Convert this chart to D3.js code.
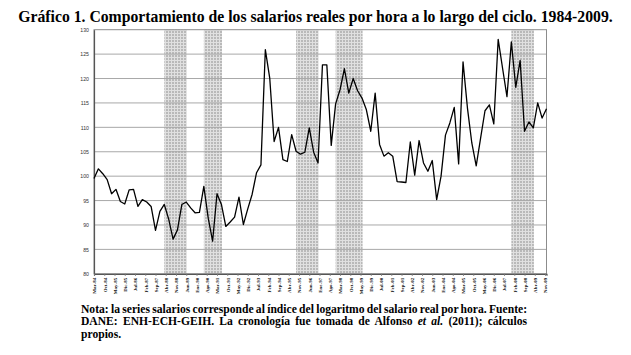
<!DOCTYPE html>
<html><head><meta charset="utf-8">
<script src="https://cdn.jsdelivr.net/npm/d3@7"></script>
<style>html,body{margin:0;padding:0;background:#fff;}svg{display:block;}</style>
</head><body>
<svg id="c" width="631" height="355"></svg>
<script>
// ---- data ----
const startLabel = "Mar-84"; // first quarter (1984-Q1), quarterly data
const salarios = [
 99.5,101.5,100.5,99.3,96.4,97.3,94.8,94.3,97.2,97.3,93.8,95.2,94.7,93.8,88.9,92.8,
 94.2,91.2,87.1,89.0,94.2,94.7,93.5,92.5,92.6,97.9,91.4,86.7,96.4,94.2,89.7,90.6,
 91.6,95.7,90.1,93.3,96.3,100.7,102.3,125.9,120.1,107.1,110.0,103.4,103.0,108.5,105.1,104.5,
 104.9,109.9,104.9,102.7,122.8,122.8,106.3,114.8,117.7,122.0,117.0,120.0,117.5,116.0,113.6,109.2,
 117.0,106.5,104.1,104.8,104.1,98.9,98.8,98.7,107.0,100.2,107.3,102.7,101.0,103.2,95.2,100.0,
 108.4,110.9,114.1,102.5,123.4,114.0,106.8,102.1,107.8,113.4,114.6,110.7,128.0,122.1,116.3,127.5,
 118.2,123.7,109.2,111.1,109.9,115.0,111.9,113.8
];
const recesionInicio = ["1988-03","1990-06","1995-09","1997-12","2007-12"];
const recesionFin    = ["1989-06","1991-06","1996-12","1999-06","2009-03"];
const xTickLabels = ["Mar-84","Oct-84","May-85","Dic-85","Jul-86","Feb-87","Sep-87","Abr-88","Nov-88","Jun-89",
 "Ene-90","Ago-90","Mar-91","Oct-91","May-92","Dic-92","Jul-93","Feb-94","Sep-94","Abr-95","Nov-95","Jun-96",
 "Ene-97","Ago-97","Mar-98","Oct-98","May-99","Dic-99","Jul-00","Feb-01","Sep-01","Abr-02","Nov-02","Jun-03",
 "Ene-04","Ago-04","Mar-05","Oct-05","May-06","Dic-06","Jul-07","Feb-08","Sep-08","Abr-09","Nov-09"];
const yTicks = [80,85,90,95,100,105,110,115,120,125,130];
const titulo = "Gráfico 1. Comportamiento de los salarios reales por hora a lo largo del ciclo. 1984-2009.";

// ---- layout ----
const SERIF = "'Liberation Serif','Times New Roman','DejaVu Serif',serif";
const svg = d3.select("#c");
const L=94, R=546.5, T=29.7, B=273.8;
const monthOf = s => { const [yy,m]=s.split("-").map(Number); return (yy-1984)*12 + (m-3); };
const x = d3.scaleLinear().domain([0, (salarios.length-1)*3]).range([L,R]);
const y = d3.scaleLinear().domain([80,130]).range([B,T]);

// pattern for recession shading (grey cells with white grid)
const defs = svg.append("defs");
const pat = defs.append("pattern").attr("id","hatch").attr("patternUnits","userSpaceOnUse")
  .attr("width",3).attr("height",3);
pat.append("rect").attr("width",3).attr("height",3).attr("fill","#e0e0e0");
pat.append("rect").attr("x",1).attr("y",1).attr("width",2).attr("height",2).attr("fill","#b9b9b9");

// title
const tt = svg.append("text").attr("x",315.5).attr("y",22).attr("text-anchor","middle")
  .style("font-family",SERIF).attr("font-weight","bold").attr("font-size",14)
  .attr("fill","#000").text(titulo);
const tw = tt.node().getComputedTextLength();
tt.attr("font-size", 14*595/tw);

// shading
svg.append("g").selectAll("rect").data(recesionInicio).join("rect")
  .attr("x",(d)=>x(monthOf(d)))
  .attr("width",(d,i)=>x(monthOf(recesionFin[i]))-x(monthOf(d))+0.6)
  .attr("y",T).attr("height",B-T).attr("fill","url(#hatch)");

// gridlines
svg.append("g").selectAll("line").data(yTicks.filter(v=>v>80&&v<130)).join("line")
  .attr("x1",L).attr("x2",R).attr("y1",d=>y(d)).attr("y2",d=>y(d))
  .attr("stroke","#a8a8a8").attr("stroke-width",1);

// frame
svg.append("rect").attr("x",L).attr("y",T).attr("width",R-L).attr("height",B-T)
  .attr("fill","none").attr("stroke","#8c8c8c").attr("stroke-width",1);

// y axis
const yAx = svg.append("g").attr("transform",`translate(${L},0)`)
  .call(d3.axisLeft(y).tickValues(yTicks).tickSize(0).tickPadding(5).tickFormat(d3.format("d")));
yAx.select(".domain").attr("stroke","#555").attr("stroke-width",1.2);
yAx.selectAll("text").style("font-family","'Liberation Sans',Arial,sans-serif").attr("font-size",5.2).attr("fill","#333");

// x axis
const xAx = svg.append("g").attr("transform",`translate(0,${B})`)
  .call(d3.axisBottom(x).tickValues(xTickLabels.map((d,i)=>i*7)).tickSize(2)
    .tickFormat((d,i)=>xTickLabels[i]));
xAx.select(".domain").attr("stroke","#555").attr("stroke-width",1.2);
xAx.selectAll(".tick line").attr("stroke","#777");
xAx.selectAll("text").style("font-family",SERIF).attr("font-weight","bold")
  .attr("font-size",5).attr("fill","#111")
  .attr("transform","rotate(-90)").attr("text-anchor","end").attr("y",0).attr("x",-4).attr("dy","0.35em");

// line
svg.append("path").datum(salarios)
  .attr("d", d3.line().x((d,i)=>x(i*3)).y(d=>y(d)))
  .attr("fill","none").attr("stroke","#000").attr("stroke-width",1.3).attr("stroke-linejoin","round");

// note
const noteLines = [
  [{t:"Nota: la series salarios corresponde al índice del logaritmo del salario real por hora. Fuente:"}],
  [{t:"DANE: ENH-ECH-GEIH. La cronología fue tomada de Alfonso "},{t:"et al.",i:true},{t:" (2011); cálculos"}],
  [{t:"propios."}]
];
const justify = [true,true,false];
const nb = [312.5,325,337.5];
noteLines.forEach((ln,k)=>{
  const t = svg.append("text").attr("x",81).attr("y",nb[k])
    .style("font-family",SERIF).attr("font-weight","bold").attr("font-size",11.6).attr("fill","#000");
  ln.forEach(p=>{ t.append("tspan").attr("font-style",p.i?"italic":"normal").text(p.t); });
  if(justify[k]){
    const w = t.node().getComputedTextLength();
    const spaces = ln.map(p=>p.t).join("").split(" ").length-1;
    t.attr("word-spacing",(446-w)/spaces);
  }
});
</script>
</body></html>
